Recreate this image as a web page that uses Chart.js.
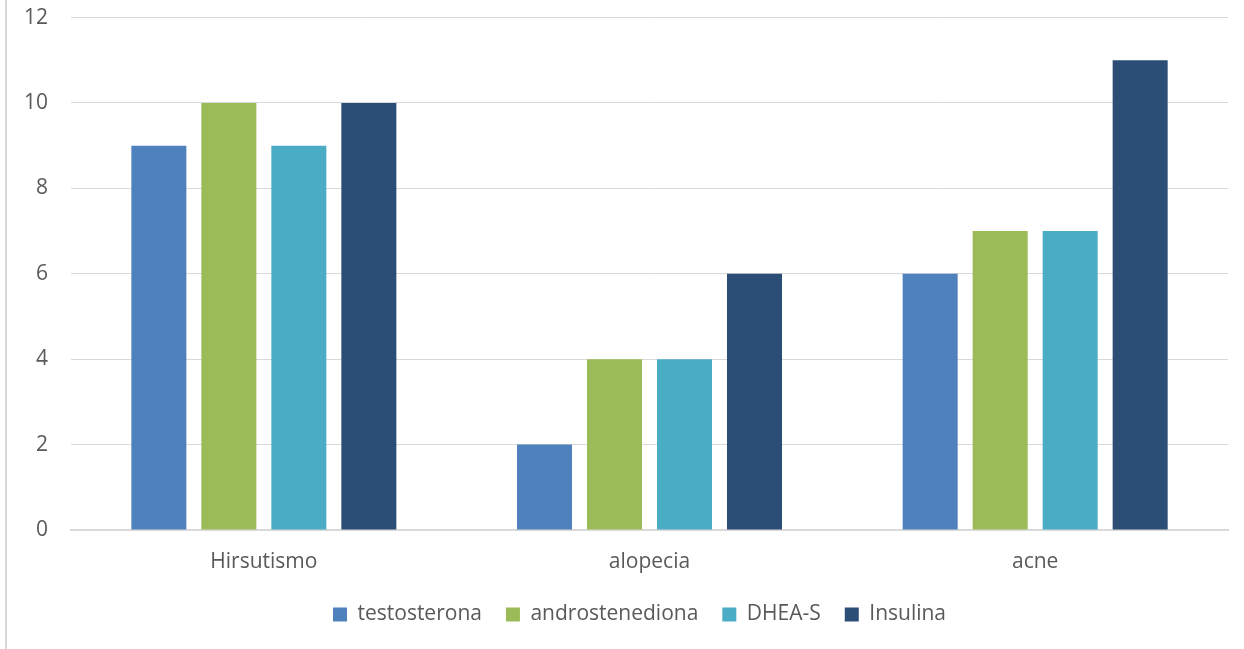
<!DOCTYPE html>
<html>
<head>
<meta charset="utf-8">
<script src="https://cdn.jsdelivr.net/npm/chart.js@4.4.1/dist/chart.umd.min.js"></script>
<style>
  html, body { margin: 0; padding: 0; background: #fff; }
  #wrap { position: relative; width: 1244px; height: 649px; }
  #frame { position: absolute; left: 5px; top: 0; width: 2px; height: 649px; background: #d9d9d9; }
  canvas { position: absolute; left: 0; top: 0; }
</style>
</head>
<body>
<div id="wrap">
  <div id="frame"></div>
  <canvas id="grafico" width="1244" height="649"></canvas>
</div>
<script>
  // datos
  const categorias = ['Hirsutismo', 'alopecia', 'acne'];
  const testosterona = [9, 2, 6];
  const androstenediona = [10, 4, 7];
  const dheaS = [9, 4, 7];
  const insulina = [10, 6, 11];
  const ticksY = [0, 2, 4, 6, 8, 10, 12];

  const fuente = "'Open Sans', 'Liberation Sans', sans-serif";
  const gris = '#595959';

  function serie(label, data, color){
    return {
      label: label,
      data: data,
      backgroundColor: color,
      borderWidth: 0,
      barPercentage: 0.786,
      categoryPercentage: 0.726
    };
  }

  // la leyenda del original está centrada sobre el área de dibujo, no sobre el lienzo
  const centrarLeyenda = {
    id: 'centrarLeyenda',
    afterLayout(chart){
      const lg = chart.legend;
      if(!lg) return;
      const dx = (chart.chartArea.left + chart.chartArea.right) / 2 - (lg.left + lg.right) / 2 - 10;
      lg.left += dx;
      lg.right += dx;
    }
  };

  new Chart(document.getElementById('grafico').getContext('2d'), {
    type: 'bar',
    data: {
      labels: categorias,
      datasets: [
        serie('testosterona', testosterona, '#4F81BD'),
        serie('androstenediona', androstenediona, '#9BBB59'),
        serie('DHEA-S', dheaS, '#4BACC6'),
        serie('Insulina', insulina, '#2C4D75')
      ]
    },
    plugins: [centrarLeyenda],
    options: {
      responsive: false,
      animation: false,
      layout: { padding: { left: 19, right: 16, top: 0, bottom: 14 } },
      plugins: {
        tooltip: { enabled: false },
        legend: {
          position: 'bottom',
          // título vacío: solo deja un poco de aire sobre la leyenda
          title: { display: true, text: ' ', font: { size: 5 }, padding: 0 },
          labels: {
            font: { family: fuente, size: 21 },
            color: gris,
            boxWidth: 14,
            boxHeight: 14,
            padding: 24
          }
        }
      },
      scales: {
        x: {
          afterFit: (s) => { s.height = 44; },
          grid: { display: false, drawTicks: false },
          border: { display: true, color: '#d9d9d9', width: 2 },
          ticks: { font: { family: fuente, size: 21 }, color: gris, padding: 19 }
        },
        y: {
          min: 0,
          max: 12,
          afterBuildTicks: (axis) => { axis.ticks = ticksY.map(v => ({ value: v })); },
          grid: { color: '#d9d9d9', lineWidth: 1, drawTicks: true, tickLength: 18, tickColor: 'rgba(0,0,0,0)' },
          border: { display: false },
          ticks: { font: { family: fuente, size: 21 }, color: gris, padding: 5 }
        }
      }
    }
  });
</script>
</body>
</html>
